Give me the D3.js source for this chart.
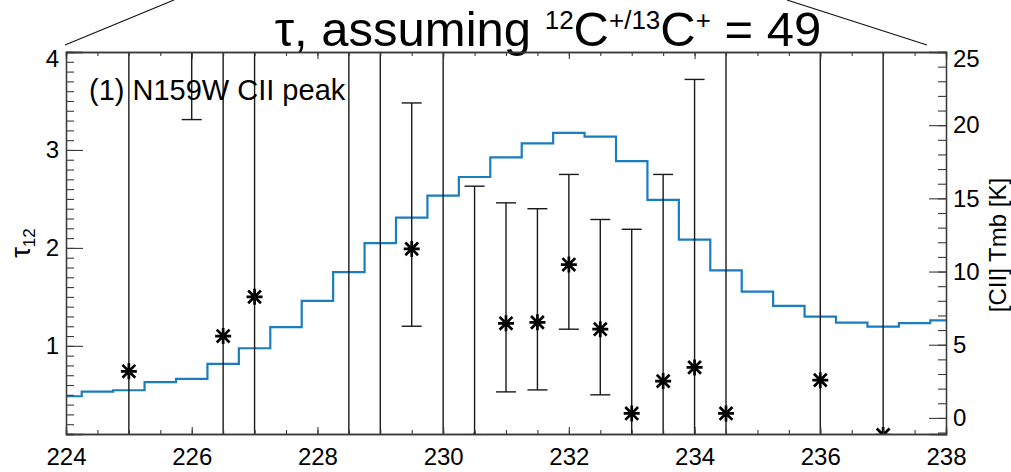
<!DOCTYPE html>
<html>
<head>
<meta charset="utf-8">
<script src="https://cdn.jsdelivr.net/npm/d3@7"></script>
<style>
  html, body { margin: 0; padding: 0; background: #fff; }
  svg { display: block; }
  text { font-family: "Liberation Sans", Arial, Helvetica, sans-serif; fill: #000; }
</style>
</head>
<body>
<script>
// [CII] spectrum: channel velocity (km/s) and main-beam temperature (K)
const specVel = [224.0, 224.5, 225.0, 225.5, 226.0, 226.5, 227.0, 227.5, 228.0, 228.5,
                 229.0, 229.5, 230.0, 230.5, 231.0, 231.5, 232.0, 232.5, 233.0, 233.5,
                 234.0, 234.5, 235.0, 235.5, 236.0, 236.5, 237.0, 237.5, 238.0];
const specTmb = [1.48, 1.80, 1.89, 2.44, 2.66, 3.69, 4.76, 6.20, 8.00, 9.96,
                 11.94, 13.68, 15.19, 16.46, 17.80, 18.76, 19.47, 19.22, 17.55, 14.89,
                 12.18, 10.08, 8.63, 7.65, 6.92, 6.51, 6.24, 6.47, 6.67];

// optical depth tau_12 per channel, with lower / upper ends of the error bars
const tauVel  = [225.0, 226.0, 226.5, 227.0, 228.5, 229.0, 229.5, 230.0, 230.5, 231.0,
                 231.5, 232.0, 232.5, 233.0, 233.5, 234.0, 234.5, 236.0, 237.0];
const tauVal  = [0.74, 4.60, 1.10, 1.50, -0.50, -0.40, 1.99, -0.60, 0.03, 1.23,
                 1.24, 1.83, 1.17, 0.31, 0.64, 0.78, 0.31, 0.65, 0.09];
const tauLow  = [-2.6, 3.31, -2.0, -1.5, -4.0, -4.5, 1.20, -5.0, -2.5, 0.53,
                 0.55, 1.17, 0.50, -1.57, -1.47, -2.16, -4.0, -3.5, -4.0];
const tauHigh = [4.10, 5.90, 4.20, 4.50, 4.50, 4.40, 3.48, 4.80, 2.63, 2.46,
                 2.40, 2.75, 2.29, 2.19, 2.75, 3.72, 4.60, 4.80, 4.20];

const xTickMajor = [224, 226, 228, 230, 232, 234, 236, 238];
const leftTickMajor = [1, 2, 3, 4];
const rightTickMajor = [0, 5, 10, 15, 20, 25];

const W = 1011, H = 472;
const margin = { left: 66, right: 65, top: 52, bottom: 38 };
const pw = W - margin.left - margin.right;
const ph = H - margin.top - margin.bottom;

const svg = d3.select("body").append("svg").attr("width", W).attr("height", H);

const x = d3.scaleLinear().domain([224, 238]).range([margin.left, margin.left + pw]);
const yTau = d3.scaleLinear().domain([0.1, 4]).range([margin.top + ph, margin.top]);
const yT = d3.scaleLinear().domain([-1.1, 25]).range([margin.top + ph, margin.top]);

svg.append("defs").append("clipPath").attr("id", "plotClip")
  .append("rect").attr("x", margin.left).attr("y", margin.top).attr("width", pw).attr("height", ph);

const axisColor = "#3a3a3a";
const fs = 24;

// connector lines above the panel
svg.append("line").attr("x1", margin.left - 1).attr("y1", margin.top - 7)
  .attr("x2", margin.left + 108).attr("y2", 0)
  .attr("stroke", "#111").attr("stroke-width", 1.1);
svg.append("line").attr("x1", margin.left + pw - 159).attr("y1", 0)
  .attr("x2", margin.left + pw - 19).attr("y2", margin.top - 7)
  .attr("stroke", "#111").attr("stroke-width", 1.1);

// title
const title = svg.append("text").attr("x", 548).attr("y", 46)
  .attr("text-anchor", "middle").style("font-size", "49px");
title.append("tspan").text("τ, assuming ");
title.append("tspan").attr("dy", -17).style("font-size", "26px").text("12");
title.append("tspan").attr("dy", 17).text("C");
title.append("tspan").attr("dy", -17).style("font-size", "26px").text("+/13");
title.append("tspan").attr("dy", 17).text("C");
title.append("tspan").attr("dy", -17).style("font-size", "26px").text("+");
title.append("tspan").attr("dy", 17).text(" = 49");

const plot = svg.append("g").attr("clip-path", "url(#plotClip)");

// [CII] spectrum as a histogram-style step line
plot.append("path")
  .datum(specVel.map((v, i) => [v, specTmb[i]]))
  .attr("fill", "none").attr("stroke", "#1a7dc0").attr("stroke-width", 2.2)
  .attr("d", d3.line().x(d => x(d[0])).y(d => yT(d[1])).curve(d3.curveStep));

// error bars
const capHalf = 10;
const eb = plot.append("g").attr("stroke", "#1a1a1a").attr("stroke-width", 1.4);
tauVel.forEach((v, i) => {
  const cx = x(v);
  eb.append("line").attr("x1", cx).attr("x2", cx)
    .attr("y1", yTau(tauLow[i])).attr("y2", yTau(tauHigh[i]));
  [tauLow[i], tauHigh[i]].forEach(e => {
    eb.append("line").attr("x1", cx - capHalf).attr("x2", cx + capHalf)
      .attr("y1", yTau(e)).attr("y2", yTau(e));
  });
});

// asterisk markers
const r = 8, rd = 6.4;
const star = `M0,${-r}V${r}M${-r},0H${r}M${-rd},${-rd}L${rd},${rd}M${-rd},${rd}L${rd},${-rd}`;
plot.append("g").selectAll("path").data(tauVel).join("path")
  .attr("transform", (v, i) => `translate(${x(v)},${yTau(tauVal[i])})`)
  .attr("d", star).attr("stroke", "#000").attr("stroke-width", 2.7).attr("fill", "none");

// axes with inward ticks
function styleAxis(g) {
  g.select(".domain").attr("stroke", axisColor).attr("stroke-width", 1.3);
  g.selectAll(".tick line").attr("stroke", axisColor).attr("stroke-width", 1.1);
  g.selectAll("text").style("font-size", fs + "px")
    .style("font-family", '"Liberation Sans", Arial, sans-serif').attr("fill", "#000");
}
// the label at the top end of a vertical axis sits a little lower, inside the frame
function lowerTopLabel(top) {
  return g => g.selectAll(".tick").filter(d => d === top).select("text").attr("y", 7);
}
const xMinor = d3.range(224, 238.01, 0.5);
const bottom = margin.top + ph;

svg.append("g").attr("transform", `translate(0,${bottom})`)
  .call(d3.axisBottom(x).tickValues(xMinor).tickSize(-4).tickFormat(""))
  .call(styleAxis);
svg.append("g").attr("transform", `translate(0,${bottom})`)
  .call(d3.axisBottom(x).tickValues(xTickMajor).tickSize(-7).tickPadding(14).tickFormat(d3.format("d")))
  .call(styleAxis);
svg.append("g").attr("transform", `translate(0,${margin.top})`)
  .call(d3.axisTop(x).tickValues(xMinor).tickSize(-4).tickFormat(""))
  .call(styleAxis);
svg.append("g").attr("transform", `translate(0,${margin.top})`)
  .call(d3.axisTop(x).tickValues(xTickMajor).tickSize(-7).tickFormat(""))
  .call(styleAxis);

const tauMinor = d3.range(1, 40).map(k => k / 10);
svg.append("g").attr("transform", `translate(${margin.left},0)`)
  .call(d3.axisLeft(yTau).tickValues(tauMinor).tickSize(-8).tickFormat(""))
  .call(styleAxis);
svg.append("g").attr("transform", `translate(${margin.left},0)`)
  .call(d3.axisLeft(yTau).tickValues(leftTickMajor).tickSize(-17).tickPadding(7).tickFormat(d3.format("d")))
  .call(styleAxis)
  .call(lowerTopLabel(4));

const tMinor = d3.range(-1, 26, 1);
const right = margin.left + pw;
svg.append("g").attr("transform", `translate(${right},0)`)
  .call(d3.axisRight(yT).tickValues(tMinor).tickSize(-8).tickFormat(""))
  .call(styleAxis);
svg.append("g").attr("transform", `translate(${right},0)`)
  .call(d3.axisRight(yT).tickValues(rightTickMajor).tickSize(-17).tickPadding(7).tickFormat(d3.format("d")))
  .call(styleAxis)
  .call(lowerTopLabel(25));

// axis titles
const yl = svg.append("text")
  .attr("transform", `translate(30,${margin.top + ph / 2}) rotate(-90)`)
  .attr("text-anchor", "middle").style("font-size", "27px");
yl.append("tspan").text("τ");
yl.append("tspan").attr("dy", 5).style("font-size", "17px").text("12");

svg.append("text")
  .attr("transform", `translate(1006,${margin.top + ph / 2 + 2}) rotate(-90)`)
  .attr("text-anchor", "middle").style("font-size", "24px")
  .text("[CII] Tmb [K]");

// panel label
svg.append("text").attr("x", 89).attr("y", 100).style("font-size", "29px")
  .text("(1) N159W CII peak");
</script>
</body>
</html>
